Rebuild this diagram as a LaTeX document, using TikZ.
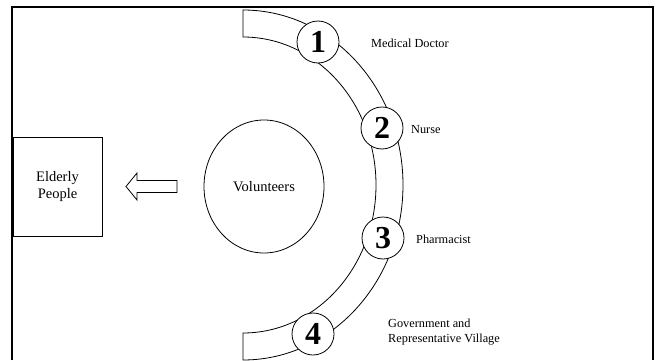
\documentclass[tikz,border=0pt]{standalone}
\usepackage{fontspec}
\setmainfont{Liberation Serif}
\usetikzlibrary{shapes.geometric}
\begin{document}
\begin{tikzpicture}[x=1pt,y=1pt,
  thin line/.style={line width=0.8pt},
  numcircle/.style={circle,draw,thin line,fill=white,minimum size=42pt,inner sep=0pt,
    font=\fontsize{32}{32}\selectfont\bfseries},
  lbl/.style={anchor=west,inner sep=0pt,font=\fontsize{12.3}{15}\selectfont,align=left},
  mainlbl/.style={font=\fontsize{14.5}{17.5}\selectfont,align=center}]
\useasboundingbox (0,0) rectangle (659,360);
% frame
\draw[line width=2pt] (12,0) -- (12,353) -- (653,353) -- (653,0);
% band (block arc)
\draw[thin line,fill=white] (243,350) arc[start angle=90,end angle=-90,x radius=160,y radius=175]
  -- (243,27) arc[start angle=-90,end angle=90,x radius=133,y radius=148] -- cycle;
% numbered circles
\node[numcircle] (c1) at (318,318) {1};
\node[numcircle] (c2) at (382,232) {2};
\node[numcircle] (c3) at (383,122) {3};
\node[numcircle] (c4) at (313,26) {4};
% labels
\node[lbl] (l1) at (371,317) {Medical Doctor};
\node[lbl] (l2) at (411,230) {Nurse};
\node[lbl] (l3) at (416,121) {Pharmacist};
\node[lbl] (l4) at (388,27.5) {Government and\\Representative Village};
% elderly box
\node[draw,thin line,minimum width=89pt,minimum height=99pt,inner sep=0pt,mainlbl] (eld) at (57.5,173.5) {Elderly\\People};
% volunteers ellipse
\node[ellipse,draw,thin line,minimum width=120pt,minimum height=133pt,inner sep=0pt,mainlbl] (vol) at (264,173.5) {Volunteers};
% block arrow
\draw[thin line] (126,173.5) -- (137,187) -- (137,179.5) -- (177,179.5) -- (177,167.5) -- (137,167.5) -- (137,160) -- cycle;
\end{tikzpicture}
\end{document}
